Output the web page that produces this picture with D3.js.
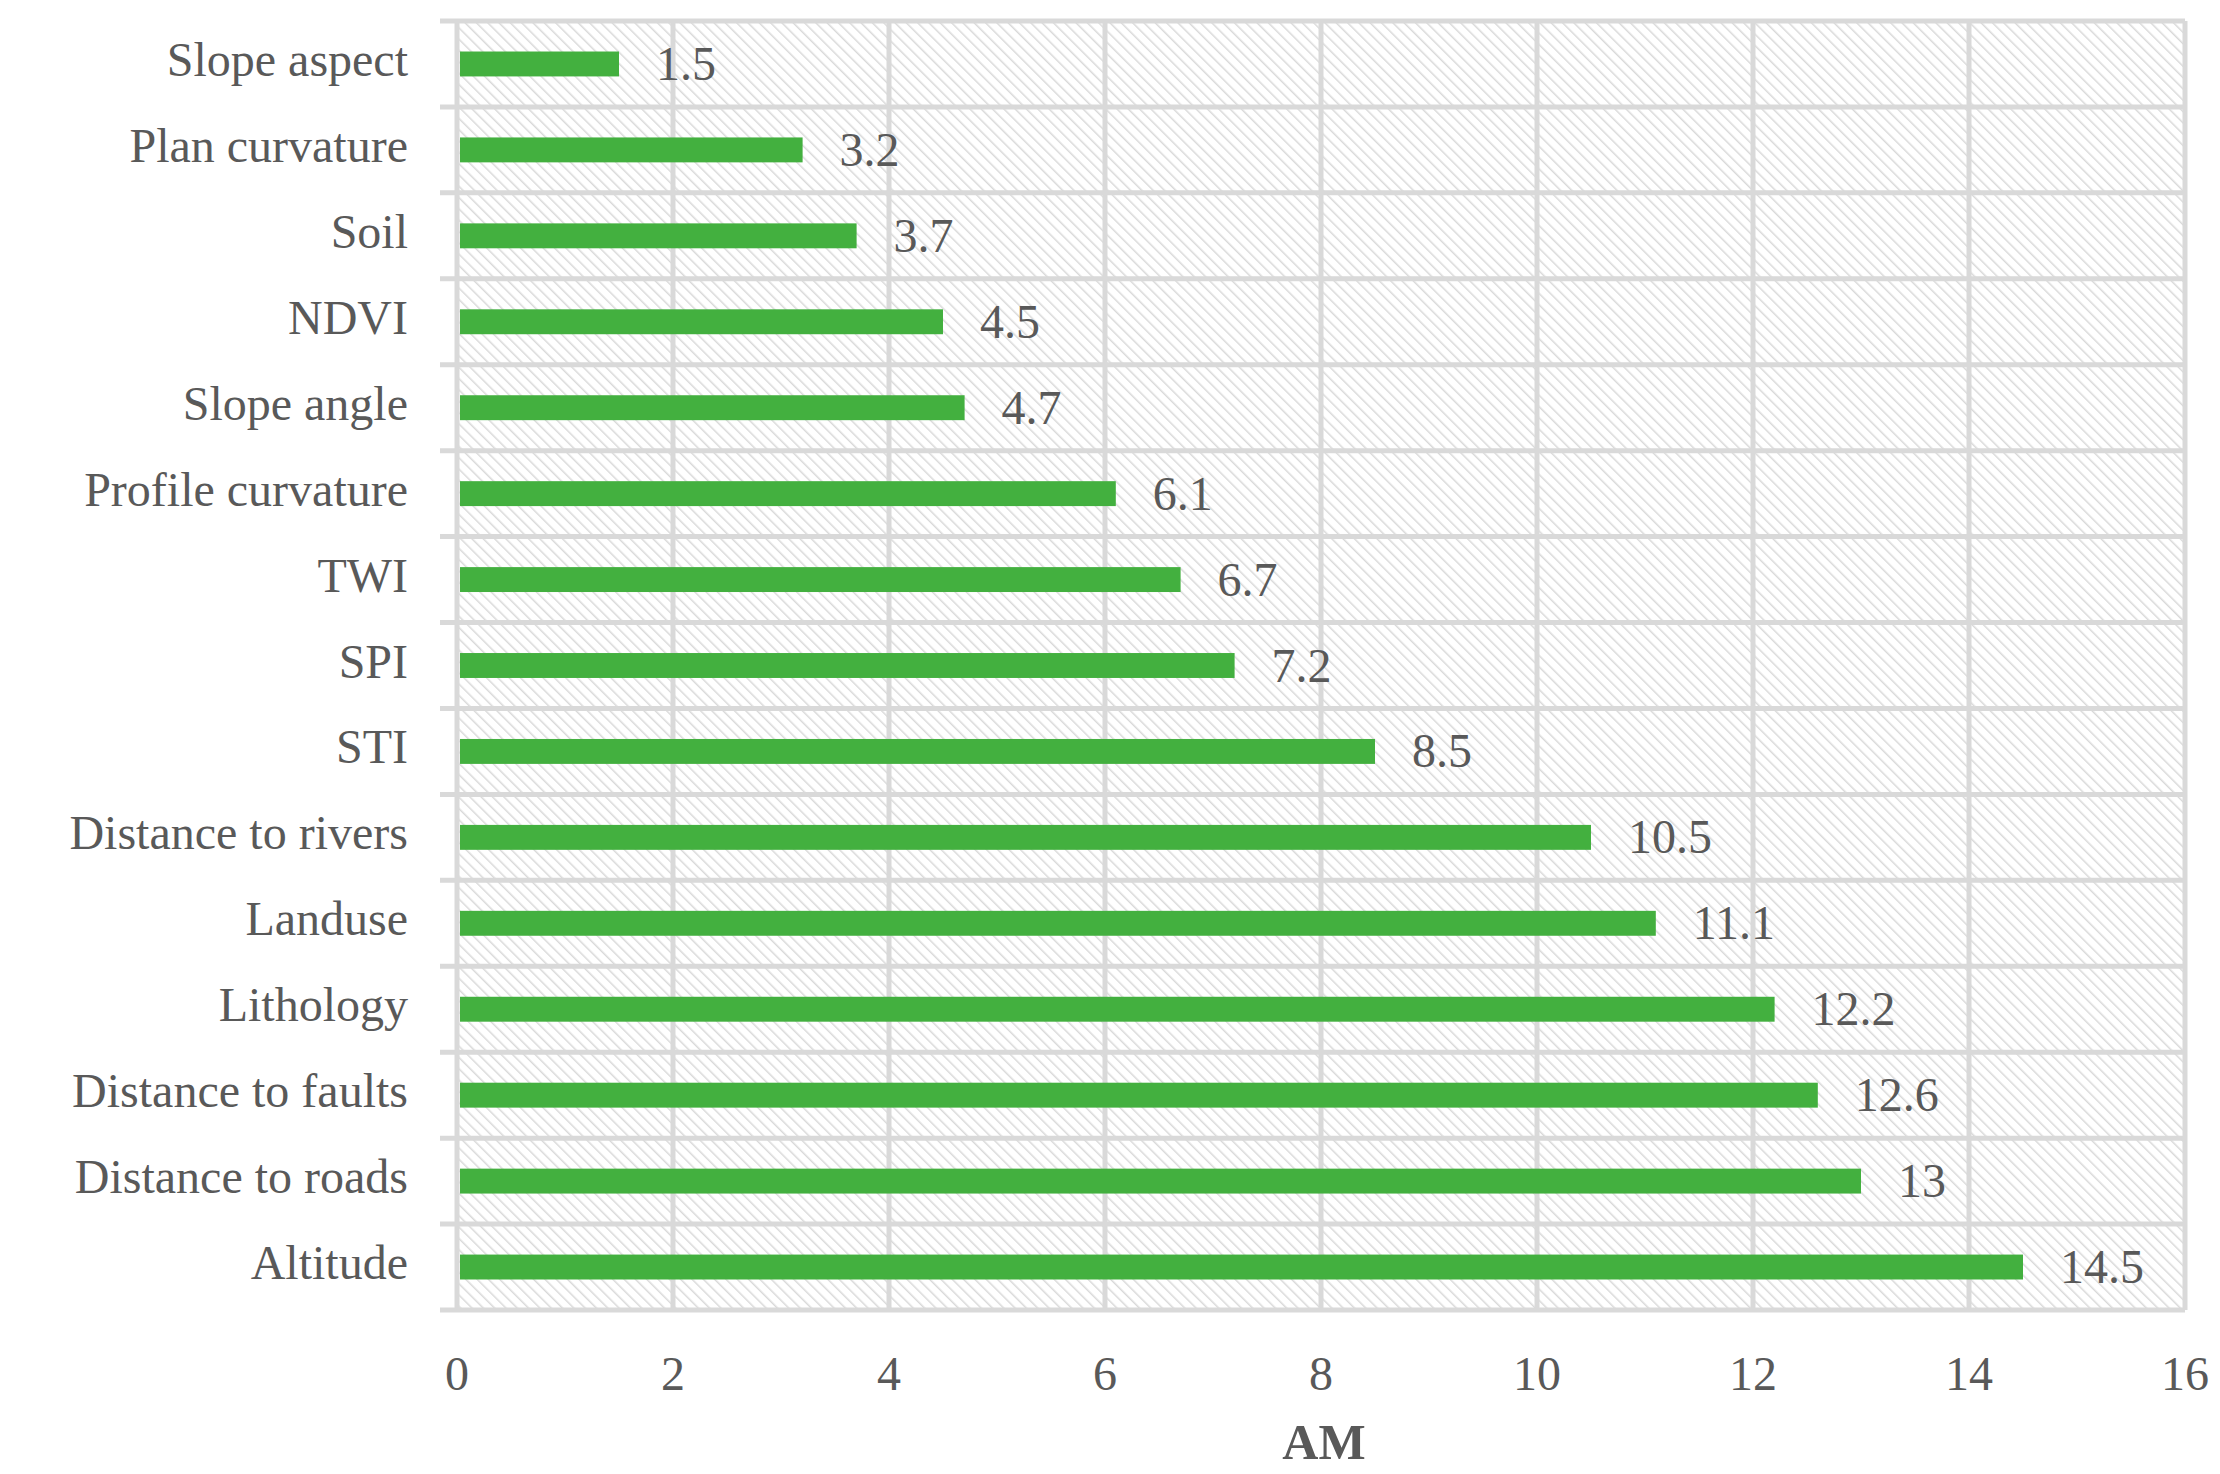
<!DOCTYPE html>
<html>
<head>
<meta charset="utf-8">
<script src="https://cdn.jsdelivr.net/npm/d3@7"></script>
<style>
  body { margin: 0; background: #fff; }
  text { font-family: "Liberation Serif", "Times New Roman", serif; fill: #595959; }
</style>
</head>
<body>
<script>
  // data, top to bottom
  const factors = ['Slope aspect', 'Plan curvature', 'Soil', 'NDVI', 'Slope angle', 'Profile curvature',
    'TWI', 'SPI', 'STI', 'Distance to rivers', 'Landuse', 'Lithology', 'Distance to faults',
    'Distance to roads', 'Altitude'];
  const amValues = [1.5, 3.2, 3.7, 4.5, 4.7, 6.1, 6.7, 7.2, 8.5, 10.5, 11.1, 12.2, 12.6, 13, 14.5];
  const xTicks = [0, 2, 4, 6, 8, 10, 12, 14, 16];

  const W = 2220, H = 1474;
  const m = { left: 457, right: 2185, top: 21, bottom: 1310 };

  const svg = d3.select('body').append('svg').attr('width', W).attr('height', H);

  // hatch pattern
  const pat = svg.append('defs').append('pattern')
    .attr('id', 'hatch').attr('patternUnits', 'userSpaceOnUse')
    .attr('width', 8).attr('height', 8)
    .attr('patternTransform', 'rotate(-45)');
  pat.append('rect').attr('width', 8).attr('height', 8).attr('fill', '#fff');
  pat.append('line').attr('x1', 0).attr('y1', 0).attr('x2', 0).attr('y2', 8)
    .attr('stroke', '#d9d9d9').attr('stroke-width', 3);

  const x = d3.scaleLinear().domain([0, 16]).range([m.left, m.right]);
  const y = d3.scaleBand().domain(factors).range([m.top, m.bottom]).paddingInner(0.71).paddingOuter(0.355);
  const step = y.step();

  svg.append('rect').attr('x', m.left).attr('y', m.top)
    .attr('width', m.right - m.left).attr('height', m.bottom - m.top)
    .attr('fill', 'url(#hatch)');

  // grid
  const grid = svg.append('g').attr('stroke', '#d9d9d9').attr('stroke-width', 5);
  grid.selectAll('line.v').data(xTicks).enter().append('line')
    .attr('x1', d => x(d)).attr('x2', d => x(d)).attr('y1', m.top).attr('y2', m.bottom);
  grid.selectAll('line.h').data(d3.range(factors.length + 1)).enter().append('line')
    .attr('x1', m.left - 17).attr('x2', m.right)
    .attr('y1', i => m.top + i * (m.bottom - m.top) / factors.length)
    .attr('y2', i => m.top + i * (m.bottom - m.top) / factors.length);

  // bars
  svg.append('g').selectAll('rect').data(factors).enter().append('rect')
    .attr('x', x(0) + 3).attr('y', d => y(d))
    .attr('width', (d, i) => x(amValues[i]) - x(0) - 3)
    .attr('height', y.bandwidth())
    .attr('fill', '#43b03f');

  // value labels
  svg.append('g').selectAll('text').data(factors).enter().append('text')
    .attr('x', (d, i) => x(amValues[i]) + 37)
    .attr('y', d => y(d) + y.bandwidth() / 2 + 16)
    .attr('font-size', 48)
    .text((d, i) => amValues[i]);

  // category labels
  svg.append('g').selectAll('text').data(factors).enter().append('text')
    .attr('x', 408).attr('y', d => y(d) + y.bandwidth() / 2 + 12)
    .attr('text-anchor', 'end').attr('font-size', 48)
    .text(d => d);

  // x tick labels
  svg.append('g').selectAll('text').data(xTicks).enter().append('text')
    .attr('x', d => x(d)).attr('y', 1390)
    .attr('text-anchor', 'middle').attr('font-size', 48)
    .text(d => d);

  svg.append('text').attr('x', (m.left + m.right) / 2 + 3).attr('y', 1459)
    .attr('text-anchor', 'middle').attr('font-size', 50).attr('font-weight', 'bold')
    .text('AM');
</script>
</body>
</html>
